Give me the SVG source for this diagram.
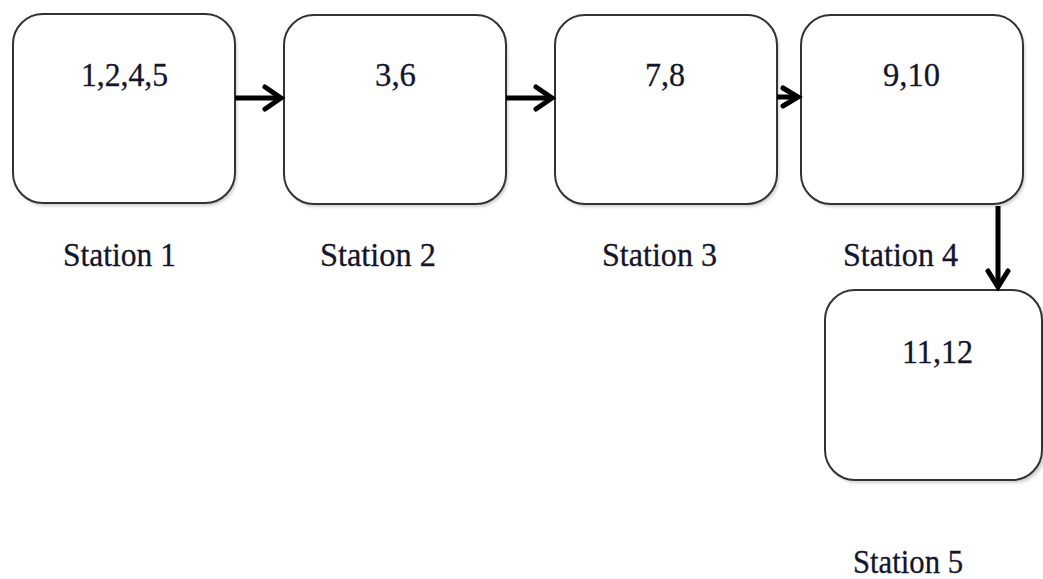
<svg xmlns="http://www.w3.org/2000/svg" width="1043" height="579" viewBox="0 0 1043 579">
  <defs>
    <style>
      .box { fill: #ffffff; stroke: #333333; stroke-width: 2; }
      .shadow { fill: #000000; opacity: 0.18; }
      .txt { font-family: "Liberation Serif", "Times New Roman", serif; font-size: 34px; fill: #14142a; stroke: #14142a; stroke-width: 0.3; }
      .conn { stroke: #000000; stroke-width: 5; fill: none; }
      .head { stroke: #000000; stroke-width: 5; fill: none; stroke-linecap: round; stroke-linejoin: miter; }
    </style>
    <filter id="soft" x="-10%" y="-10%" width="120%" height="130%">
      <feGaussianBlur stdDeviation="1.5"/>
    </filter>
  </defs>
  <rect width="1043" height="579" fill="#ffffff"/>

  <g id="station1">
    <rect class="shadow" x="15" y="17" width="222" height="189" rx="30" filter="url(#soft)"/>
    <rect class="box" x="13" y="14" width="222" height="189" rx="30"/>
    <text class="txt" x="81" y="86" textLength="87" lengthAdjust="spacingAndGlyphs">1,2,4,5</text>
    <text class="txt" x="63" y="266" textLength="113" lengthAdjust="spacingAndGlyphs">Station 1</text>
  </g>

  <g id="station2">
    <rect class="shadow" x="286" y="18" width="222" height="189" rx="30" filter="url(#soft)"/>
    <rect class="box" x="284" y="15" width="222" height="189" rx="30"/>
    <text class="txt" x="375" y="86" textLength="41" lengthAdjust="spacingAndGlyphs">3,6</text>
    <text class="txt" x="320" y="266" textLength="116" lengthAdjust="spacingAndGlyphs">Station 2</text>
  </g>

  <g id="station3">
    <rect class="shadow" x="557" y="18" width="222" height="189" rx="30" filter="url(#soft)"/>
    <rect class="box" x="555" y="15" width="222" height="189" rx="30"/>
    <text class="txt" x="645" y="86" textLength="40" lengthAdjust="spacingAndGlyphs">7,8</text>
    <text class="txt" x="602" y="266" textLength="115" lengthAdjust="spacingAndGlyphs">Station 3</text>
  </g>

  <g id="station4">
    <rect class="shadow" x="803" y="18" width="222" height="189" rx="30" filter="url(#soft)"/>
    <rect class="box" x="801" y="15" width="222" height="189" rx="30"/>
    <text class="txt" x="883" y="86" textLength="57" lengthAdjust="spacingAndGlyphs">9,10</text>
    <text class="txt" x="843" y="266" textLength="115" lengthAdjust="spacingAndGlyphs">Station 4</text>
  </g>

  <g id="station5">
    <rect class="shadow" x="827" y="293" width="218" height="190" rx="30" filter="url(#soft)"/>
    <rect class="box" x="825" y="290" width="217" height="190" rx="30"/>
    <text class="txt" x="902" y="363" textLength="71" lengthAdjust="spacingAndGlyphs">11,12</text>
    <text class="txt" x="853" y="573" textLength="110" lengthAdjust="spacingAndGlyphs">Station 5</text>
  </g>

  <g id="connectors">
    <line class="conn" x1="235" y1="98" x2="281" y2="98"/>
    <polyline class="head" points="265,87 281,98 265,109"/>
    <line class="conn" x1="506" y1="98" x2="552" y2="98"/>
    <polyline class="head" points="536,87 552,98 536,109"/>
    <line class="conn" x1="777" y1="97" x2="798" y2="97"/>
    <polyline class="head" points="783,88 798,97 783,106"/>
    <line class="conn" x1="998" y1="206" x2="998" y2="287"/>
    <polyline class="head" points="988,271 998,287 1008,271"/>
  </g>
</svg>
